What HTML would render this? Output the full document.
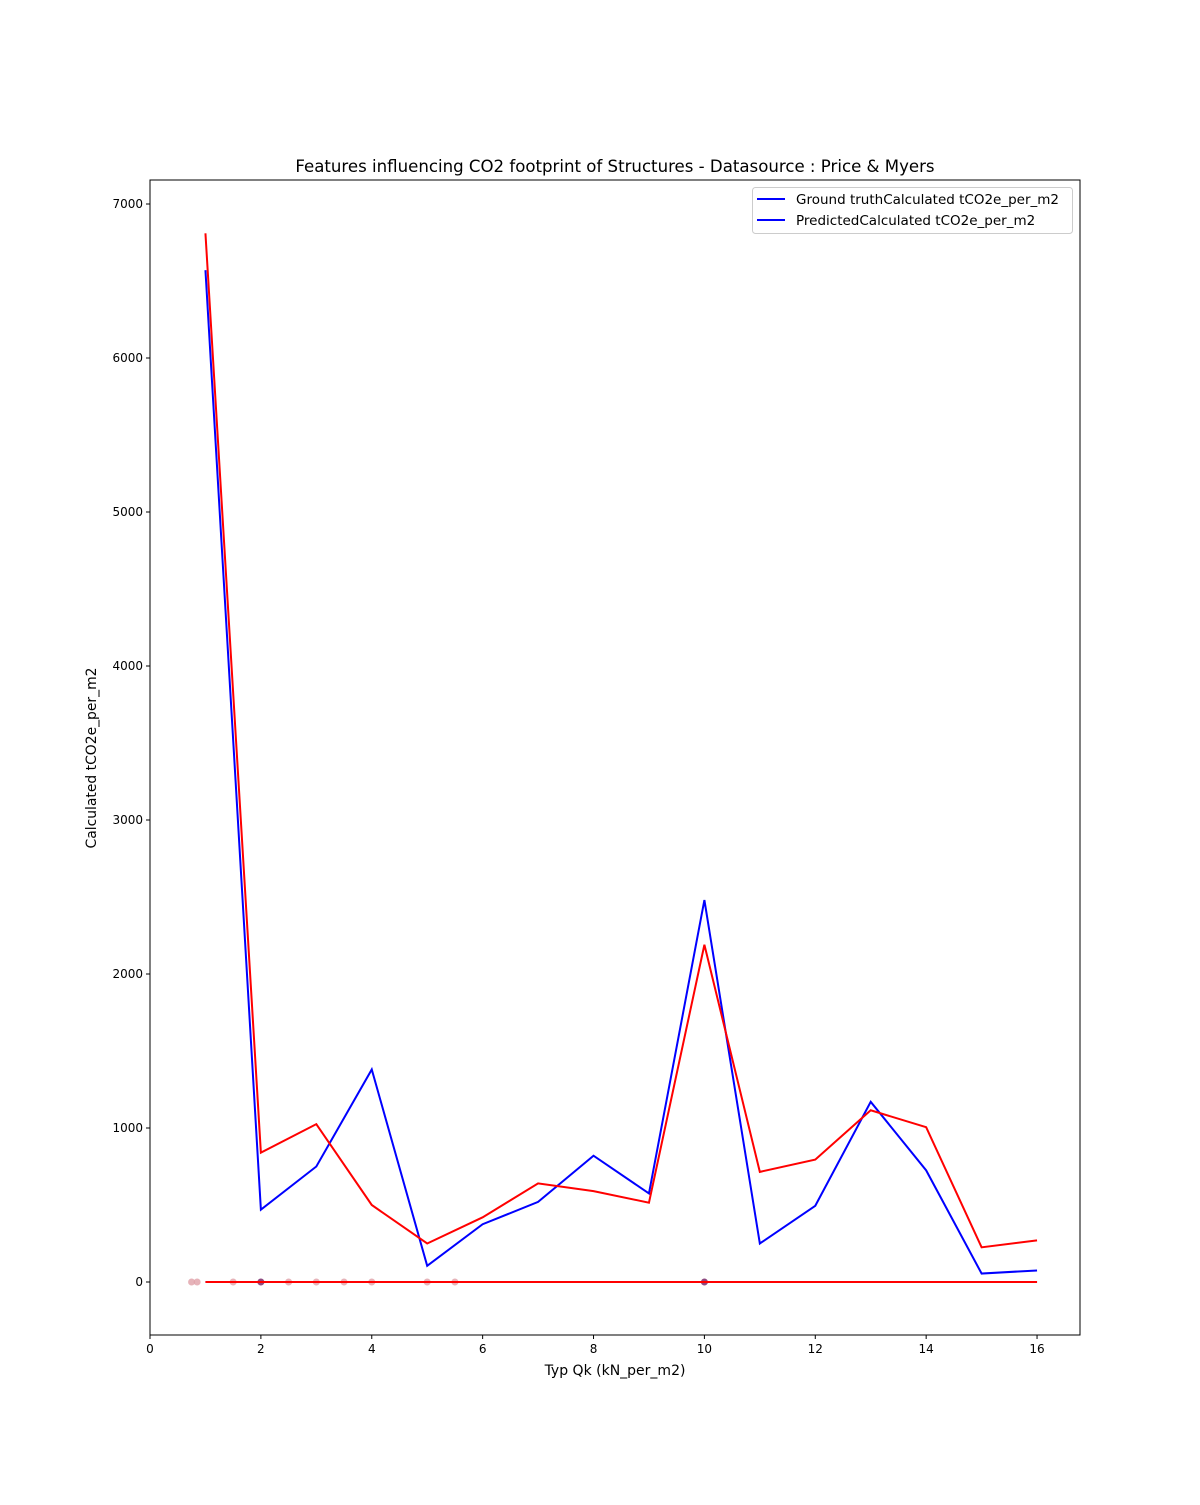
<!DOCTYPE html>
<html><head><meta charset="utf-8"><style>
body{margin:0;background:#fff;font-family:"Liberation Sans","DejaVu Sans",sans-serif}
svg text{font-family:"DejaVu Sans","Liberation Sans",sans-serif}
</style></head><body>
<svg id="chart" width="1200" height="1500" xmlns="http://www.w3.org/2000/svg"></svg>
<script>
const xCats=[1,2,3,4,5,6,7,8,9,10,11,12,13,14,15,16];
const truthVals=[6570,470,750,1380,105,375,520,820,575,2480,250,495,1170,725,55,75];
const predVals=[6810,840,1025,500,250,420,640,590,515,2190,715,795,1115,1005,225,270];
const zeroVals=[0,0,0,0,0,0,0,0,0,0,0,0,0,0,0,0];
const scatterX=[0.75,0.85,1.5,2,2.5,3,3.5,4,5,5.5,10];
const scatterDark=[0,0,0,1,0,0,0,0,0,0,1];
const xTicks=[0,2,4,6,8,10,12,14,16];
const yTicks=[0,1000,2000,3000,4000,5000,6000,7000];
const NS="http://www.w3.org/2000/svg";
const svg=document.getElementById('chart');
const L=150,R=1080,T=180,B=1335;
const sx=v=>150+v*55.44;
const sy=v=>1282-v*0.154;
function el(t,a,p){const e=document.createElementNS(NS,t);for(const k in a)e.setAttribute(k,a[k]);(p||svg).appendChild(e);return e;}
const title=el('text',{x:615,y:172,'text-anchor':'middle','font-size':16.6});title.textContent='Features influencing CO2 footprint of Structures - Datasource : Price & Myers';


xTicks.forEach(v=>{
 const g=el('g',{});
 
 
 el('line',{x1:sx(v),x2:sx(v),y1:B,y2:B+4,stroke:'#000'},g);
 const t=el('text',{x:sx(v),y:B+18,'text-anchor':'middle','font-size':12},g);t.textContent=v;
});
yTicks.forEach(v=>{
 const g=el('g',{});
 
 
 el('line',{x1:L-4,x2:L,y1:sy(v),y2:sy(v),stroke:'#000'},g);
 const t=el('text',{x:L-7,y:sy(v)+4,'text-anchor':'end','font-size':12},g);t.textContent=v;
});
const xl=el('text',{x:615,y:1375,'text-anchor':'middle','font-size':14});xl.textContent='Typ Qk (kN_per_m2)';


const yl=el('text',{x:96,y:758,'text-anchor':'middle','font-size':13.9,transform:'rotate(-90 96 758)'});yl.textContent='Calculated tCO2e_per_m2';


scatterX.forEach((v,i)=>{
 const c=el('circle',{cx:sx(v),cy:sy(0),r:3.5,fill:scatterDark[i]?'#8e4a80':'#e0a0a8','fill-opacity':scatterDark[i]?1:0.8});
 
 
});
function line(vals,color,name){
 const p=el('polyline',{points:xCats.map((x,i)=>sx(x)+','+sy(vals[i])).join(' '),fill:'none',stroke:color,'stroke-width':2});
 
 
}
line(zeroVals,'#0000ff','truth-baseline');
line(zeroVals,'#ff0000','pred-baseline');
line(truthVals,'#0000ff','ground-truth-line');
line(predVals,'#ff0000','predicted-line');
const fr=el('rect',{x:L,y:T,width:R-L,height:B-T,fill:'none',stroke:'#000','stroke-width':1});


const lg=el('g',{});


el('rect',{x:752.5,y:187.5,width:320,height:46,rx:3,fill:'#fff',stroke:'#ccc'},lg);
[['Ground truthCalculated tCO2e_per_m2',199],['PredictedCalculated tCO2e_per_m2',220]].forEach(([s,y])=>{
 const g=el('g',{},lg);
 
 
 el('line',{x1:757,x2:785,y1:y,y2:y,stroke:'#0000ff','stroke-width':2},g);
 const t=el('text',{x:796,y:y+5,'font-size':13.5},g);t.textContent=s;
});
</script>
</body></html>
